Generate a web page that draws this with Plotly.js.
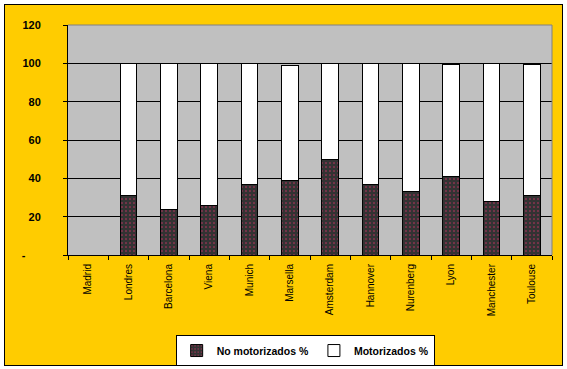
<!DOCTYPE html>
<html>
<head>
<meta charset="utf-8">
<script src="https://cdn.plot.ly/plotly-3.0.1.min.js"></script>
<style>
html,body{margin:0;padding:0;background:#ffffff;}
#frame{position:absolute;left:4px;top:4px;width:557px;height:360px;border:1px solid #000;background:#FFCC00;}
#chart{width:557px;height:360px;}
</style>
</head>
<body>
<div id="frame"><div id="chart"></div></div>
<script>
var categories = ["Madrid","Londres","Barcelona","Viena","Munich","Marsella","Amsterdam","Hannover","Nurenberg","Lyon","Manchester","Toulouse"];
var noMotorizados = [null,31,24,26,37,39,50,37,33,41,28,31];
var motorizados = [null,69,76,74,63,60,50,63,67,58.5,72,68.5];
var yTickVals = [0,20,40,60,80,100,120];
var yTickText = ["-\u00A0\u00A0\u00A0\u00A0\u00A0","20","40","60","80","100","120"];

var traces = [
  {type:"bar", name:"No motorizados %", x:categories, y:noMotorizados,
   marker:{color:"#333333", line:{color:"#000", width:1},
     pattern:{shape:".", bgcolor:"#333333", fgcolor:"#cc3366", size:4, solidity:0.12}}},
  {type:"bar", name:"Motorizados %", x:categories, y:motorizados,
   marker:{color:"#ffffff", line:{color:"#000", width:1}}}
];

var layout = {
  width:557, height:360,
  margin:{l:63, r:10, t:20, b:110, autoexpand:false},
  paper_bgcolor:"#FFCC00", plot_bgcolor:"#C0C0C0",
  barmode:"stack", bargap:0.58,
  font:{family:"Liberation Sans, Arial, sans-serif", color:"#000", size:10},
  xaxis:{type:"category", tickangle:-90, tickson:"boundaries", ticks:"outside", ticklen:4, tickcolor:"#000",
    showline:true, linecolor:"#000", linewidth:1, showgrid:false, zeroline:false, automargin:false,
    ticklabelstandoff:4,
    tickfont:{size:10, family:"Liberation Sans, Arial, sans-serif"}},
  yaxis:{range:[0,120], tickvals:yTickVals, ticktext:yTickText, ticks:"outside", ticklen:4, tickcolor:"#000",
    showline:true, linecolor:"#000", linewidth:1, showgrid:true, gridcolor:"#000", gridwidth:1, zeroline:false,
    ticklabelstandoff:20, automargin:false,
    tickfont:{size:11, family:"Liberation Sans, Arial, sans-serif", weight:"bold"}},
  legend:{orientation:"h", x:0.49, xanchor:"center", y:-0.348, yanchor:"top",
    bgcolor:"#ffffff", bordercolor:"#000", borderwidth:1,
    font:{size:10.5, family:"Liberation Sans, Arial, sans-serif", weight:"bold"},
    itemwidth:30, traceorder:"normal"},
  shapes:[
    {type:"line", xref:"paper", yref:"paper", x0:0, x1:1, y0:1, y1:1, line:{color:"#808080", width:1}},
    {type:"line", xref:"paper", yref:"paper", x0:1, x1:1, y0:0, y1:1, line:{color:"#808080", width:1}}
  ],
  showlegend:true
};

Plotly.newPlot("chart", traces, layout, {displayModeBar:false, staticPlot:true});
</script>
</body>
</html>
